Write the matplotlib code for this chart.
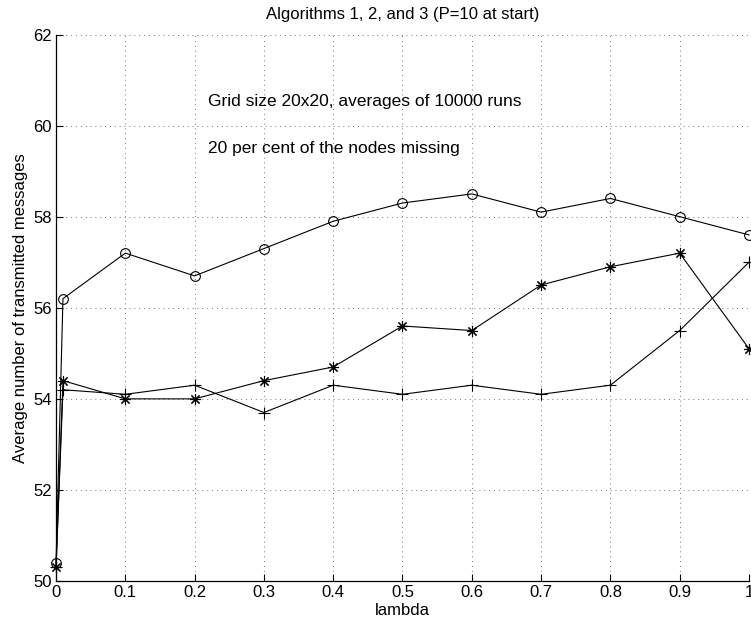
import numpy as np
import matplotlib
matplotlib.use('Agg')
import matplotlib.pyplot as plt

plt.rcParams['font.family'] = ['Liberation Sans', 'DejaVu Sans']

##### Data #####
lam = [0, 0.01, 0.1, 0.2, 0.3, 0.4, 0.5, 0.6, 0.7, 0.8, 0.9, 1.0]
alg_circle = [50.4, 56.2, 57.2, 56.7, 57.3, 57.9, 58.3, 58.5, 58.1, 58.4, 58.0, 57.6]
alg_star = [50.3, 54.4, 54.0, 54.0, 54.4, 54.7, 55.6, 55.5, 56.5, 56.9, 57.2, 55.1]
alg_plus = [50.3, 54.2, 54.1, 54.3, 53.7, 54.3, 54.1, 54.3, 54.1, 54.3, 55.5, 57.0]

xticks = [0, 0.1, 0.2, 0.3, 0.4, 0.5, 0.6, 0.7, 0.8, 0.9, 1]
xticklabels = ['0', '0.1', '0.2', '0.3', '0.4', '0.5', '0.6', '0.7', '0.8', '0.9', '1']
yticks = [50, 52, 54, 56, 58, 60, 62]
################

fig = plt.figure(figsize=(7.51, 6.31), dpi=100)
ax = fig.add_axes([0.0746, 0.0792, 0.9227, 0.8661])

lw = 0.8
ax.plot(lam, alg_circle, color='k', lw=lw, marker='o', ms=7, mfc='none', mec='k', mew=0.8, clip_on=False, zorder=3)
ax.plot(lam, alg_star, color='k', lw=lw, marker=(8, 2, 0), ms=8, mec='k', mew=0.8, clip_on=False, zorder=3)
ax.plot(lam, alg_plus, color='k', lw=lw, marker='+', ms=8, mec='k', mew=0.8, clip_on=False, zorder=3)

ax.set_xlim(0, 1)
ax.set_ylim(50, 62)
ax.set_xticks(xticks)
ax.set_xticklabels(xticklabels)
ax.set_yticks(yticks)
ax.tick_params(direction='in', length=5, width=0.8, labelsize=12, top=False, right=False, pad=3)

ax.grid(True, linestyle=(0, (1, 4)), color='#777777', linewidth=0.7)
ax.spines['top'].set_visible(False)
ax.spines['right'].set_visible(False)
ax.spines['left'].set_linewidth(0.9)
ax.spines['bottom'].set_linewidth(0.9)

ax.text(0.22, 60.52, 'Grid size 20x20, averages of 10000 runs', fontsize=12.5, va='center', ha='left')
ax.text(0.22, 59.5, '20 per cent of the nodes missing', fontsize=12.5, va='center', ha='left')

ax.set_title('Algorithms 1, 2, and 3 (P=10 at start)', fontsize=12, pad=11)
ax.set_xlabel('lambda', fontsize=12, labelpad=2)
ax.set_ylabel('Average number of transmitted messages', fontsize=12, labelpad=4)

fig.savefig('out.png', dpi=100)
